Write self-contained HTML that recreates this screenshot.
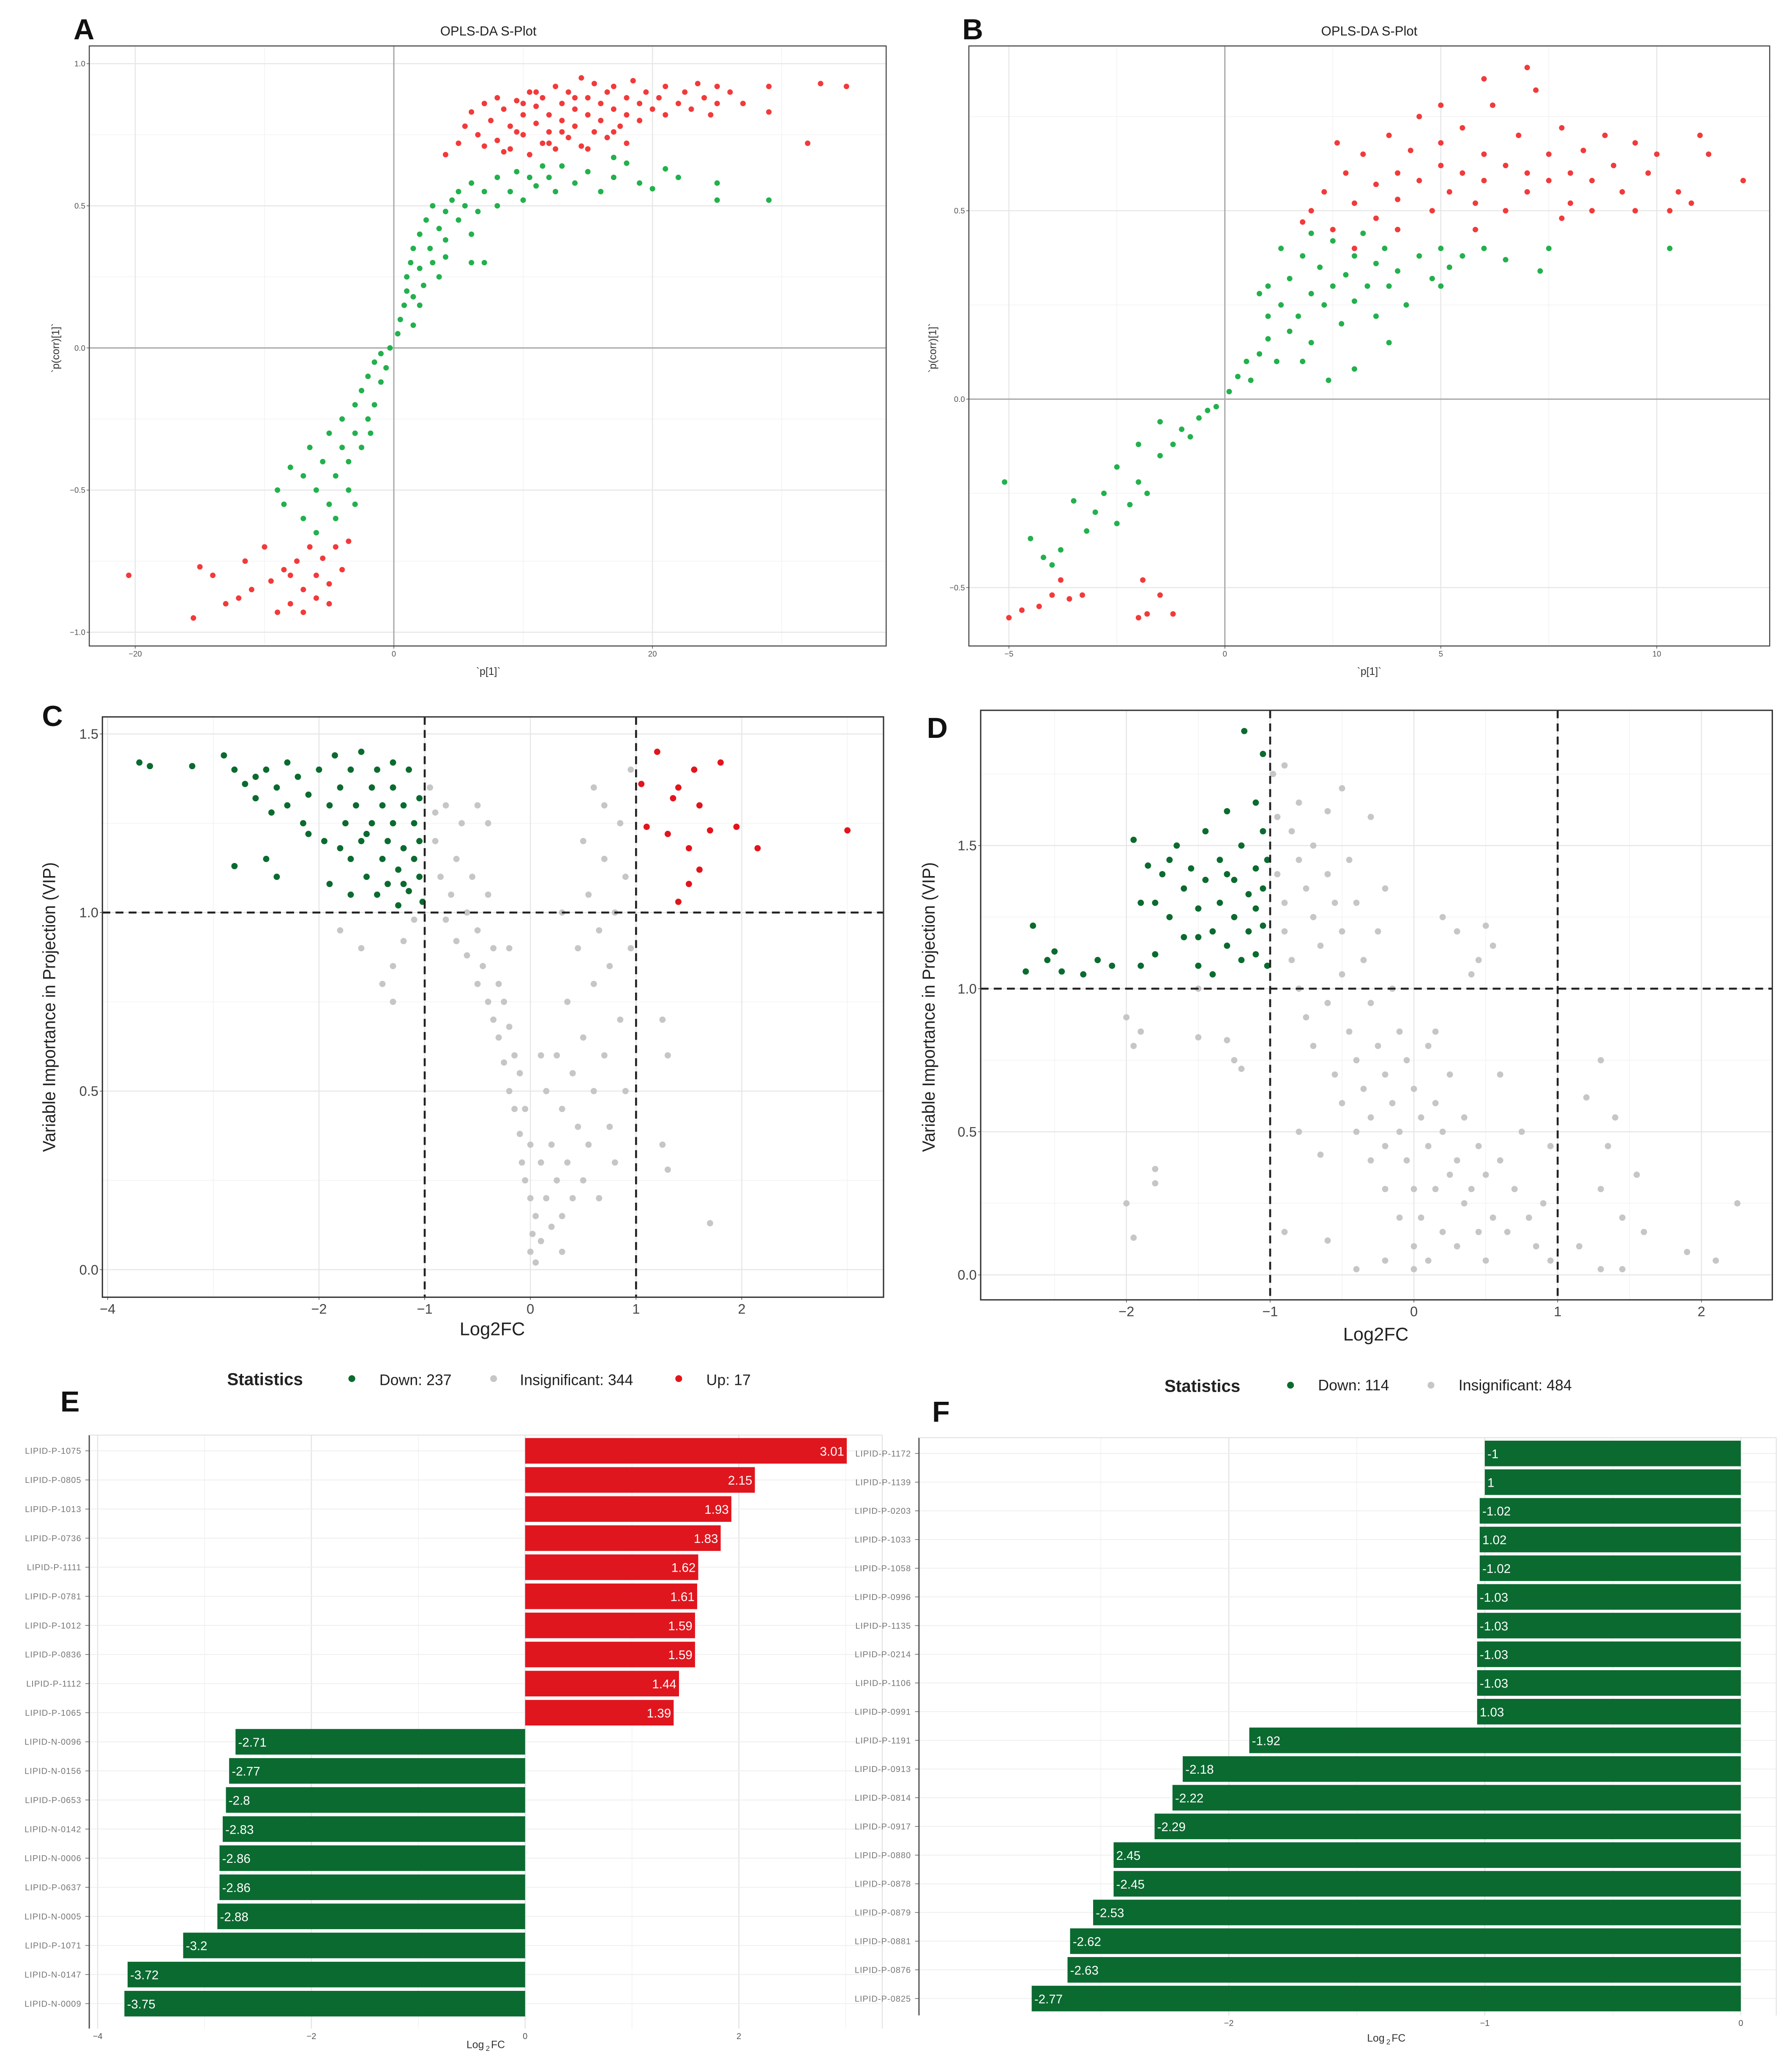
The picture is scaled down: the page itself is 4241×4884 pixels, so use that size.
<!DOCTYPE html>
<html><head><meta charset="utf-8"><title>OPLS-DA figure</title>
<style>
html,body{margin:0;padding:0;background:#fff;}
svg{display:block;font-family:"Liberation Sans",Arial,sans-serif;}
</style></head>
<body>
<svg id="fig" width="4241" height="4884" viewBox="0 0 1365 1572" preserveAspectRatio="none" xmlns="http://www.w3.org/2000/svg">
<rect x="0" y="0" width="1365" height="1572" fill="#fff"/>
</svg>
<script>
// ---------- DATA ----------
const aRedUp=[[4,0.68],[5,0.72],[5.5,0.78],[6,0.83],[6.5,0.75],[7,0.86],[7.5,0.8],[8,0.88],[8,0.73],[8.5,0.84],[9,0.78],[9,0.7],[9.5,0.87],[10,0.82],[10,0.75],[10.5,0.9],[10.5,0.68],[11,0.85],[11,0.79],[11.5,0.72],[11.5,0.88],[12,0.82],[12,0.76],[12.5,0.92],[12.5,0.7],[13,0.86],[13,0.8],[13.5,0.74],[13.5,0.9],[14,0.84],[14,0.78],[14.5,0.95],[14.5,0.71],[15,0.88],[15,0.82],[15.5,0.76],[15.5,0.93],[16,0.86],[16,0.8],[16.5,0.9],[16.5,0.74],[17,0.84],[17,0.92],[17.5,0.78],[18,0.88],[18,0.82],[18.5,0.94],[19,0.86],[19,0.8],[19.5,0.9],[20,0.84],[20.5,0.88],[21,0.82],[21,0.92],[22,0.86],[22.5,0.9],[23,0.84],[23.5,0.93],[24,0.88],[24.5,0.82],[25,0.92],[25,0.86],[26,0.9],[27,0.86],[29,0.92],[29,0.83],[32,0.72],[33,0.93],[35,0.92],[12,0.72],[13,0.76],[11,0.9],[9.5,0.76],[17,0.76],[18,0.72],[15,0.7],[8.5,0.69],[7,0.71],[10,0.86],[14,0.88]];
const aRedDown=[[-20.5,-0.8],[-15.5,-0.95],[-15,-0.77],[-14,-0.8],[-13,-0.9],[-12,-0.88],[-11.5,-0.75],[-11,-0.85],[-10,-0.7],[-9.5,-0.82],[-9,-0.93],[-8.5,-0.78],[-8,-0.9],[-7.5,-0.75],[-7,-0.85],[-7,-0.93],[-6.5,-0.7],[-6,-0.8],[-6,-0.88],[-5.5,-0.74],[-5,-0.83],[-4.5,-0.7],[-4,-0.78],[-3.5,-0.68],[-5,-0.9],[-8,-0.8]];
const aGreen=[[-9,-0.5],[-8,-0.42],[-8.5,-0.55],[-7,-0.45],[-7,-0.6],[-6.5,-0.35],[-6,-0.5],[-6,-0.65],[-5.5,-0.4],[-5,-0.55],[-5,-0.3],[-4.5,-0.45],[-4.5,-0.6],[-4,-0.35],[-4,-0.25],[-3.5,-0.5],[-3.5,-0.4],[-3,-0.3],[-3,-0.2],[-3,-0.55],[-2.5,-0.15],[-2.5,-0.35],[-2,-0.25],[-2,-0.1],[-1.8,-0.3],[-1.5,-0.2],[-1.5,-0.05],[-1,-0.12],[-1,-0.02],[-0.6,-0.07],[-0.3,0],[0.3,0.05],[0.5,0.1],[0.8,0.15],[1,0.2],[1,0.25],[1.3,0.3],[1.5,0.18],[1.5,0.35],[2,0.28],[2,0.4],[2.3,0.22],[2.5,0.45],[2.8,0.35],[3,0.3],[3,0.5],[3.5,0.42],[3.5,0.25],[4,0.48],[4,0.38],[4.5,0.52],[5,0.45],[5,0.55],[5.5,0.5],[6,0.4],[6,0.58],[6.5,0.48],[7,0.3],[7,0.55],[8,0.5],[8,0.6],[9,0.55],[9.5,0.62],[10,0.52],[10.5,0.6],[11,0.57],[11.5,0.64],[12,0.6],[12.5,0.55],[13,0.64],[14,0.58],[15,0.62],[16,0.55],[17,0.6],[17,0.67],[18,0.65],[19,0.58],[20,0.56],[21,0.63],[22,0.6],[25,0.58],[25,0.52],[29,0.52],[4,0.32],[2,0.15],[1.5,0.08],[6,0.3]];

const bRedUp=[[1.8,0.47],[2,0.5],[2.3,0.55],[2.5,0.45],[2.8,0.6],[3,0.52],[3.2,0.65],[3.5,0.57],[3.5,0.48],[3.8,0.7],[4,0.6],[4,0.53],[4.3,0.66],[4.5,0.58],[4.5,0.75],[4.8,0.5],[5,0.62],[5,0.68],[5.2,0.55],[5.5,0.6],[5.5,0.72],[5.8,0.52],[6,0.65],[6,0.58],[6.2,0.78],[6.5,0.62],[6.5,0.5],[6.8,0.7],[7,0.6],[7,0.55],[7.2,0.82],[7.5,0.65],[7.5,0.58],[7.8,0.72],[8,0.6],[8,0.52],[8.3,0.66],[8.5,0.58],[8.8,0.7],[9,0.62],[9.2,0.55],[9.5,0.68],[9.8,0.6],[10,0.65],[10.3,0.5],[10.5,0.55],[10.8,0.52],[11.2,0.65],[12,0.58],[6,0.85],[7,0.88],[5,0.78],[3,0.4],[4,0.45],[8.5,0.5],[9.5,0.5],[2.6,0.68],[11,0.7],[5.8,0.45],[7.8,0.48]];
const bRedDown=[[-5,-0.58],[-4.7,-0.56],[-4.3,-0.55],[-4,-0.52],[-3.8,-0.48],[-3.6,-0.53],[-3.3,-0.52],[-1.9,-0.48],[-1.8,-0.57],[-1.5,-0.52],[-1.2,-0.57],[-2,-0.58]];
const bGreen=[[-5.1,-0.22],[-4.5,-0.37],[-4.2,-0.42],[-4,-0.44],[-3.8,-0.4],[-3.5,-0.27],[-3.2,-0.35],[-3,-0.3],[-2.8,-0.25],[-2.5,-0.33],[-2.5,-0.18],[-2.2,-0.28],[-2,-0.22],[-2,-0.12],[-1.8,-0.25],[-1.5,-0.15],[-1.5,-0.06],[-1.2,-0.12],[-1,-0.08],[-0.8,-0.1],[-0.6,-0.05],[-0.4,-0.03],[-0.2,-0.02],[0.1,0.02],[0.3,0.06],[0.5,0.1],[0.6,0.05],[0.8,0.12],[1,0.16],[1,0.22],[1.2,0.1],[1.3,0.25],[1.5,0.18],[1.5,0.32],[1.7,0.22],[1.8,0.38],[2,0.28],[2,0.15],[2.2,0.35],[2.3,0.25],[2.5,0.42],[2.5,0.3],[2.7,0.2],[2.8,0.33],[3,0.38],[3,0.26],[3.2,0.44],[3.3,0.3],[3.5,0.36],[3.5,0.22],[3.7,0.4],[3.8,0.3],[4,0.45],[4,0.34],[4.2,0.25],[4.5,0.38],[4.8,0.32],[5,0.4],[5.2,0.35],[5.5,0.38],[6,0.4],[6.5,0.37],[7.5,0.4],[7.3,0.34],[1,0.3],[1.8,0.1],[2.4,0.05],[3,0.08],[0.8,0.28],[2,0.44],[10.3,0.4],[3.8,0.15],[1.3,0.4],[5,0.3]];

const cDown=[[-3.7,1.42],[-3.6,1.41],[-3.2,1.41],[-2.9,1.44],[-2.8,1.4],[-2.7,1.36],[-2.6,1.32],[-2.5,1.4],[-2.45,1.28],[-2.4,1.35],[-2.3,1.3],[-2.2,1.38],[-2.15,1.25],[-2.1,1.33],[-2,1.4],[-1.95,1.2],[-1.9,1.3],[-1.85,1.44],[-1.8,1.35],[-1.75,1.25],[-1.7,1.15],[-1.7,1.4],[-1.65,1.3],[-1.6,1.2],[-1.6,1.45],[-1.55,1.1],[-1.5,1.35],[-1.5,1.25],[-1.45,1.05],[-1.45,1.4],[-1.4,1.15],[-1.4,1.3],[-1.35,1.2],[-1.35,1.08],[-1.3,1.35],[-1.3,1.25],[-1.25,1.12],[-1.25,1.02],[-1.2,1.3],[-1.2,1.18],[-1.15,1.4],[-1.15,1.06],[-1.1,1.25],[-1.1,1.15],[-1.05,1.32],[-1.05,1.1],[-1.05,1.2],[-1.02,1.03],[-2.8,1.13],[-2.5,1.15],[-2.4,1.1],[-2.1,1.22],[-1.9,1.08],[-1.7,1.05],[-2.6,1.38],[-2.3,1.42],[-1.8,1.18],[-1.55,1.22],[-1.3,1.42],[-1.2,1.08]];
const cUp=[[1.05,1.36],[1.1,1.24],[1.2,1.45],[1.3,1.22],[1.35,1.32],[1.4,1.35],[1.5,1.18],[1.55,1.4],[1.6,1.12],[1.7,1.23],[1.8,1.42],[1.95,1.24],[2.15,1.18],[3.0,1.23],[1.6,1.3],[1.4,1.03],[1.5,1.08]];
const cInsig=[[-1.8,0.95],[-1.6,0.9],[-1.4,0.8],[-1.3,0.85],[-1.3,0.75],[-1.2,0.92],[-1.1,0.98],[-0.95,1.35],[-0.9,1.2],[-0.85,1.1],[-0.8,1.3],[-0.8,0.98],[-0.75,1.05],[-0.7,1.15],[-0.7,0.92],[-0.65,1.25],[-0.6,1.0],[-0.6,0.88],[-0.55,1.1],[-0.5,0.95],[-0.5,0.8],[-0.45,0.85],[-0.4,1.05],[-0.4,0.75],[-0.35,0.9],[-0.35,0.7],[-0.3,0.8],[-0.3,0.65],[-0.25,0.75],[-0.25,0.58],[-0.2,0.68],[-0.2,0.5],[-0.15,0.6],[-0.15,0.45],[-0.1,0.55],[-0.1,0.38],[-0.08,0.3],[-0.05,0.45],[-0.05,0.25],[0,0.2],[0,0.35],[0,0.05],[0.02,0.1],[0.05,0.15],[0.05,0.02],[0.1,0.3],[0.1,0.08],[0.15,0.2],[0.15,0.5],[0.2,0.12],[0.2,0.35],[0.25,0.25],[0.25,0.6],[0.3,0.15],[0.3,0.45],[0.35,0.3],[0.35,0.75],[0.4,0.2],[0.4,0.55],[0.45,0.4],[0.45,0.9],[0.5,0.25],[0.5,0.65],[0.55,0.35],[0.55,1.05],[0.6,0.5],[0.6,0.8],[0.65,0.2],[0.65,0.95],[0.7,0.6],[0.7,1.15],[0.75,0.4],[0.75,0.85],[0.8,1.0],[0.8,0.3],[0.85,1.25],[0.85,0.7],[0.9,0.5],[0.9,1.1],[0.95,1.4],[0.95,0.9],[0.3,1.0],[0.5,1.2],[0.7,1.3],[-0.9,1.28],[1.25,0.7],[1.3,0.6],[1.25,0.35],[1.3,0.28],[1.7,0.13],[-0.5,1.3],[-0.4,1.25],[-0.2,0.9],[0.1,0.6],[0.6,1.35],[0.3,0.05]];

const dDown=[[-2.7,1.06],[-2.65,1.22],[-2.55,1.1],[-2.5,1.13],[-2.45,1.06],[-2.3,1.05],[-2.2,1.1],[-2.1,1.08],[-1.95,1.52],[-1.9,1.3],[-1.85,1.43],[-1.8,1.12],[-1.75,1.4],[-1.7,1.25],[-1.65,1.5],[-1.6,1.35],[-1.6,1.18],[-1.55,1.42],[-1.5,1.28],[-1.5,1.08],[-1.45,1.55],[-1.45,1.38],[-1.4,1.2],[-1.4,1.05],[-1.35,1.45],[-1.35,1.3],[-1.3,1.62],[-1.3,1.15],[-1.25,1.38],[-1.25,1.25],[-1.2,1.5],[-1.2,1.1],[-1.18,1.9],[-1.15,1.33],[-1.15,1.2],[-1.1,1.42],[-1.1,1.28],[-1.1,1.12],[-1.05,1.55],[-1.05,1.35],[-1.05,1.22],[-1.02,1.45],[-1.02,1.08],[-1.8,1.3],[-1.7,1.45],[-1.5,1.18],[-1.3,1.4],[-1.9,1.08],[-1.05,1.82],[-1.1,1.65]];
const dInsig=[[-2,0.9],[-1.95,0.8],[-1.9,0.85],[-2,0.25],[-1.95,0.13],[-1.8,0.37],[-1.8,0.32],[-1.5,1.0],[-1.3,0.82],[-1.25,0.75],[-1.2,0.72],[-1.5,0.83],[-0.98,1.75],[-0.95,1.6],[-0.95,1.4],[-0.9,1.78],[-0.9,1.3],[-0.9,1.2],[-0.85,1.55],[-0.85,1.1],[-0.8,1.65],[-0.8,1.45],[-0.8,1.0],[-0.75,1.35],[-0.75,0.9],[-0.7,1.5],[-0.7,1.25],[-0.7,0.8],[-0.65,1.15],[-0.6,1.62],[-0.6,1.4],[-0.6,0.95],[-0.55,1.3],[-0.55,0.7],[-0.5,1.2],[-0.5,1.05],[-0.5,0.6],[-0.45,1.45],[-0.45,0.85],[-0.4,1.3],[-0.4,0.75],[-0.4,0.5],[-0.35,1.1],[-0.35,0.65],[-0.3,0.95],[-0.3,0.55],[-0.3,0.4],[-0.25,1.2],[-0.25,0.8],[-0.2,0.7],[-0.2,0.45],[-0.2,0.3],[-0.15,1.0],[-0.15,0.6],[-0.1,0.85],[-0.1,0.5],[-0.1,0.2],[-0.05,0.75],[-0.05,0.4],[0,0.65],[0,0.3],[0,0.1],[0.05,0.55],[0.05,0.2],[0.1,0.8],[0.1,0.45],[0.1,0.05],[0.15,0.6],[0.15,0.3],[0.2,0.5],[0.2,0.15],[0.25,0.7],[0.25,0.35],[0.3,0.4],[0.3,0.1],[0.35,0.55],[0.35,0.25],[0.4,0.3],[0.45,0.45],[0.45,0.15],[0.5,0.35],[0.5,0.05],[0.55,0.2],[0.6,0.4],[0.65,0.15],[0.7,0.3],[0.8,0.2],[0.85,0.1],[0.9,0.25],[0.95,0.05],[0.2,1.25],[0.3,1.2],[0.45,1.1],[0.5,1.22],[0.55,1.15],[0.4,1.05],[-0.3,1.6],[-0.5,1.7],[-0.2,1.35],[0.75,0.5],[0.95,0.45],[1.3,0.75],[1.2,0.62],[1.35,0.45],[1.3,0.3],[1.4,0.55],[1.45,0.2],[1.55,0.35],[1.6,0.15],[1.3,0.02],[1.15,0.1],[1.9,0.08],[2.1,0.05],[2.25,0.25],[1.45,0.02],[-0.65,0.42],[-0.8,0.5],[-0.9,0.15],[-0.6,0.12],[-0.4,0.02],[-0.2,0.05],[0,0.02],[0.15,0.85],[0.6,0.7]];

const eLabels=["LIPID-P-1075","LIPID-P-0805","LIPID-P-1013","LIPID-P-0736","LIPID-P-1111","LIPID-P-0781","LIPID-P-1012","LIPID-P-0836","LIPID-P-1112","LIPID-P-1065","LIPID-N-0096","LIPID-N-0156","LIPID-P-0653","LIPID-N-0142","LIPID-N-0006","LIPID-P-0637","LIPID-N-0005","LIPID-P-1071","LIPID-N-0147","LIPID-N-0009"];
const eValues=[3.01,2.15,1.93,1.83,1.62,1.61,1.59,1.59,1.44,1.39,-2.71,-2.77,-2.8,-2.83,-2.86,-2.86,-2.88,-3.2,-3.72,-3.75];
const eTicks=[-4,-2,0,2];
const fLabels=["LIPID-P-1172","LIPID-P-1139","LIPID-P-0203","LIPID-P-1033","LIPID-P-1058","LIPID-P-0996","LIPID-P-1135","LIPID-P-0214","LIPID-P-1106","LIPID-P-0991","LIPID-P-1191","LIPID-P-0913","LIPID-P-0814","LIPID-P-0917","LIPID-P-0880","LIPID-P-0878","LIPID-P-0879","LIPID-P-0881","LIPID-P-0876","LIPID-P-0825"];
const fValues=[-1,-1,-1.02,-1.02,-1.02,-1.03,-1.03,-1.03,-1.03,-1.03,-1.92,-2.18,-2.22,-2.29,-2.45,-2.45,-2.53,-2.62,-2.63,-2.77];
const fValueText=["-1","1","-1.02","1.02","-1.02","-1.03","-1.03","-1.03","-1.03","1.03","-1.92","-2.18","-2.22","-2.29","2.45","-2.45","-2.53","-2.62","-2.63","-2.77"];
const fTicks=[-2,-1,0];

// ---------- HELPERS ----------
const NS="http://www.w3.org/2000/svg";
const svg=document.getElementById('fig');
function mk(tag,attrs,parent){const e=document.createElementNS(NS,tag);for(const k in attrs)e.setAttribute(k,attrs[k]);(parent||svg).appendChild(e);return e;}
function txt(s,attrs,parent){const t=mk('text',attrs,parent);t.textContent=s;return t;}
function group(name){const g=mk('g',{});

return g;}

function scatterPanel(p){
  const g=group(p.name);
  const xs=v=>p.x0+(v)*p.kx, ys=v=>p.y0+(v)*p.ky;
  const [L,T,R,B]=p.box;
  mk('rect',{x:L,y:T,width:R-L,height:B-T,fill:'#fff'},g);
  p.xminor.forEach(v=>{const l=mk('line',{x1:xs(v),x2:xs(v),y1:T,y2:B,stroke:'#f2f2f2','stroke-width':0.5},g);
    
    });
  p.yminor.forEach(v=>{const l=mk('line',{x1:L,x2:R,y1:ys(v),y2:ys(v),stroke:'#f2f2f2','stroke-width':0.5},g);
    
    });
  p.xticks.forEach(v=>{const l=mk('line',{x1:xs(v),x2:xs(v),y1:T,y2:B,stroke:'#e6e6e6','stroke-width':0.8},g);
    
    
    const t=txt(String(v).replace('-','−'),{x:xs(v),y:B+p.tickOff+p.fs,'font-size':p.fs,'text-anchor':'middle',fill:p.tickColor},g);
    
    
    mk('line',{x1:xs(v),x2:xs(v),y1:B,y2:B+2,stroke:'#555','stroke-width':0.5},g);});
  p.yticks.forEach((v,i)=>{const l=mk('line',{x1:L,x2:R,y1:ys(v),y2:ys(v),stroke:'#e6e6e6','stroke-width':0.8},g);
    
    
    const t=txt(p.ylab[i],{x:L-p.tickOff-1,y:ys(v)+p.fs*0.35,'font-size':p.fs,'text-anchor':'end',fill:p.tickColor},g);
    
    
    mk('line',{x1:L-2,x2:L,y1:ys(v),y2:ys(v),stroke:'#555','stroke-width':0.5},g);});
  if(p.zero){
    const zx=mk('line',{x1:xs(0),x2:xs(0),y1:T,y2:B,stroke:'#aaa','stroke-width':1},g);
    
    
    const zy=mk('line',{x1:L,x2:R,y1:ys(0),y2:ys(0),stroke:'#aaa','stroke-width':1},g);
    
    
  }
  p.series.forEach(s=>{s.data.forEach(d=>{
    const c=mk('circle',{cx:xs(d[0]),cy:ys(d[1]),r:p.r,fill:s.color},g);
    
    
  });});
  if(p.dashed){
    p.dashed.vx.forEach(v=>{const l=mk('line',{x1:xs(v),x2:xs(v),y1:T,y2:B,stroke:'#222','stroke-width':1.5,'stroke-dasharray':'6,4'},g);
      
      });
    p.dashed.hy.forEach(v=>{const l=mk('line',{x1:L,x2:R,y1:ys(v),y2:ys(v),stroke:'#222','stroke-width':1.5,'stroke-dasharray':'6,4'},g);
      
      });
  }
  const fr=mk('rect',{x:L,y:T,width:R-L,height:B-T,fill:'none',stroke:p.frame,'stroke-width':p.frameW},g);
  
  
  return g;
}

// ---------- PANELS A/B ----------
const gA=scatterPanel({name:'panel-a-splot',box:[68,35,675,492],x0:300,kx:9.85,y0:265,ky:-216.5,
  xticks:[-20,0,20],xminor:[-10,10,30],yticks:[-1,-0.5,0,0.5,1],ylab:['−1.0','−0.5','0.0','0.5','1.0'],yminor:[-0.75,-0.25,0.25,0.75],
  fs:6,tickOff:2,tickColor:'#555',zero:true,r:2.1,frame:'#444',frameW:0.8,
  series:[{name:'green-point',color:'#22b14c',data:aGreen},{name:'red-point',color:'#f23a3a',data:aRedUp},{name:'red-point',color:'#f23a3a',data:aRedDown}]});
const gB=scatterPanel({name:'panel-b-splot',box:[738,35,1348,492],x0:933,kx:32.9,y0:304,ky:-287,
  xticks:[-5,0,5,10],xminor:[-2.5,2.5,7.5],yticks:[-0.5,0,0.5],ylab:['−0.5','0.0','0.5'],yminor:[-0.25,0.25,0.75],
  fs:6,tickOff:2,tickColor:'#555',zero:true,r:2.1,frame:'#444',frameW:0.8,
  series:[{name:'green-point',color:'#22b14c',data:bGreen},{name:'red-point',color:'#f23a3a',data:bRedUp},{name:'red-point',color:'#f23a3a',data:bRedDown}]});

// ---------- PANELS C/D ----------
const gC=scatterPanel({name:'panel-c-volcano',box:[78,546,673,988],x0:404,kx:80.5,y0:967,ky:-272,
  xticks:[-4,-2,-1,0,1,2],xminor:[-3,3],yticks:[0,0.5,1,1.5],ylab:['0.0','0.5','1.0','1.5'],yminor:[0.25,0.75,1.25],
  fs:10.5,tickOff:2,tickColor:'#444',zero:false,r:2.4,frame:'#333',frameW:1,dashed:{vx:[-1,1],hy:[1]},
  series:[{name:'insignificant-point',color:'#c6c6c6',data:cInsig},{name:'down-point',color:'#0b6b2f',data:cDown},{name:'up-point',color:'#e3141c',data:cUp}]});
const gD=scatterPanel({name:'panel-d-volcano',box:[747,541,1350,990],x0:1077,kx:109.5,y0:971,ky:-218,
  xticks:[-2,-1,0,1,2],xminor:[-2.5,-1.5,-0.5,0.5,1.5],yticks:[0,0.5,1,1.5],ylab:['0.0','0.5','1.0','1.5'],yminor:[0.25,0.75,1.25,1.75],
  fs:10.5,tickOff:2,tickColor:'#444',zero:false,r:2.4,frame:'#333',frameW:1,dashed:{vx:[-1,1],hy:[1]},
  series:[{name:'insignificant-point',color:'#c6c6c6',data:dInsig},{name:'down-point',color:'#0b6b2f',data:dDown}]});

// ---------- BAR PANELS ----------
function barPanel(p){
  const g=group(p.name);
  const [L,T,R,B]=p.box;
  const xs=v=>p.x0+v*p.kx, ry=i=>p.row0+i*p.step;
  mk('rect',{x:L,y:T,width:R-L,height:B-T,fill:'#fff'},g);
  p.minor.forEach(v=>{const l=mk('line',{x1:xs(v),x2:xs(v),y1:T,y2:B,stroke:'#f3f3f3','stroke-width':0.6},g);
    
    });
  p.ticks.forEach(v=>{const l=mk('line',{x1:xs(v),x2:xs(v),y1:T,y2:B,stroke:'#e6e6e6','stroke-width':0.9},g);
    
    
    const t=txt(String(v).replace('-','−'),{x:xs(v),y:B+8,'font-size':6.5,'text-anchor':'middle',fill:'#555'},g);
    
    });
  p.labels.forEach((lab,i)=>{
    const l=mk('line',{x1:L,x2:R,y1:ry(i),y2:ry(i),stroke:'#eeeeee','stroke-width':0.6},g);
    
    
    const t=txt(lab,{x:L-6,y:ry(i)+2.3,'font-size':6.5,'text-anchor':'end',fill:'#777','letter-spacing':'0.3'},g);
    
    
    mk('line',{x1:L-3,x2:L,y1:ry(i),y2:ry(i),stroke:'#666','stroke-width':0.5},g);
  });
  p.values.forEach((v,i)=>{
    const x1=Math.min(xs(0),xs(v)),w=Math.abs(xs(v)-xs(0));
    const color=(p.colorFn)(v,i);
    const r=mk('rect',{x:x1,y:ry(i)-p.bh/2,width:w,height:p.bh,fill:color},g);
    
    
    const s=p.valText?p.valText[i]:String(v);
    const tv=txt(s,{x:v>0?xs(v)-2:xs(v)+2,y:ry(i)+3.6,'font-size':9.5,'text-anchor':v>0?'end':'start',fill:'#fff'},g);
    
    
  });
  const ax=mk('line',{x1:L,x2:L,y1:T,y2:B,stroke:'#555','stroke-width':1},g);
  
  
  mk('line',{x1:L,x2:R,y1:T,y2:T,stroke:'#ddd','stroke-width':0.6},g);
  mk('line',{x1:R,x2:R,y1:T,y2:B,stroke:'#ddd','stroke-width':0.6},g);
  return g;
}
barPanel({name:'panel-e-bars',box:[68,1093,672,1545],x0:400,kx:81.4,row0:1105,step:22.16,bh:19.5,
  ticks:eTicks,minor:[-3,-1,1,3],labels:eLabels,values:eValues,colorFn:v=>v>0?'#e0161e':'#0b6a30'});
barPanel({name:'panel-f-bars',box:[700,1095,1353,1535],x0:1326,kx:195,row0:1107,step:21.85,bh:19.5,
  ticks:fTicks,minor:[-2.5,-1.5,-0.5],labels:fLabels,values:fValues,valText:fValueText,colorFn:()=>'#0b6a30'});

// ---------- TEXT / TITLES ----------
function T(s,x,y,attrs,name){const t=txt(s,Object.assign({x:x,y:y},attrs));
  
  
  return t;}
const L={'font-size':22,'font-weight':'bold',fill:'#111'};
T('A',56,30,L,'panel-letter-a');T('B',733,30,L,'panel-letter-b');
T('C',32,553,L,'panel-letter-c');T('D',706,562,L,'panel-letter-d');
T('E',46,1075,L,'panel-letter-e');T('F',710,1083,L,'panel-letter-f');
T('OPLS-DA S-Plot',372,27,{'font-size':10,'text-anchor':'middle',fill:'#222'},'chart-title-a');
T('OPLS-DA S-Plot',1043,27,{'font-size':10,'text-anchor':'middle',fill:'#222'},'chart-title-b');
T('`p[1]`',372,514,{'font-size':8,'text-anchor':'middle',fill:'#333'},'x-axis-title-a');
T('`p[1]`',1043,514,{'font-size':8,'text-anchor':'middle',fill:'#333'},'x-axis-title-b');
T('`p(corr)[1]`',0,0,{'font-size':8,'text-anchor':'middle',fill:'#333',transform:'translate(45,265) rotate(-90)'},'y-axis-title-a');
T('`p(corr)[1]`',0,0,{'font-size':8,'text-anchor':'middle',fill:'#333',transform:'translate(713,265) rotate(-90)'},'y-axis-title-b');
T('Log2FC',375,1017,{'font-size':14,'text-anchor':'middle',fill:'#222'},'x-axis-title-c');
T('Log2FC',1048,1021,{'font-size':14,'text-anchor':'middle',fill:'#222'},'x-axis-title-d');
T('Variable Importance in Projection (VIP)',0,0,{'font-size':13.5,'text-anchor':'middle',fill:'#222',transform:'translate(42,767) rotate(-90) scale(0.95,1)'},'y-axis-title-c');
T('Variable Importance in Projection (VIP)',0,0,{'font-size':13.5,'text-anchor':'middle',fill:'#222',transform:'translate(712,767) rotate(-90) scale(0.95,1)'},'y-axis-title-d');
const e1=T('Log',362,1560,{'font-size':8,'text-anchor':'middle',fill:'#333'},'x-axis-title-e');
T('2',370,1562,{'font-size':5.5,fill:'#333'},'x-axis-title-e-sub');T('FC',374,1560,{'font-size':8,fill:'#333'},'x-axis-title-e-fc');
T('Log',1048,1555,{'font-size':8,'text-anchor':'middle',fill:'#333'},'x-axis-title-f');
T('2',1056,1557,{'font-size':5.5,fill:'#333'},'x-axis-title-f-sub');T('FC',1060,1555,{'font-size':8,fill:'#333'},'x-axis-title-f-fc');

// legends
function legendDot(cx,cy,color,name){const c=mk('circle',{cx:cx,cy:cy,r:2.6,fill:color});
  
  }
T('Statistics',173,1055,{'font-size':13,'font-weight':'bold',fill:'#222'},'legend-title-c');
legendDot(268,1050,'#0b6b2f','legend-dot-down');T('Down: 237',289,1055,{'font-size':11.5,fill:'#222'},'legend-entry-down');
legendDot(376,1050,'#c6c6c6','legend-dot-insignificant');T('Insignificant: 344',396,1055,{'font-size':11.5,fill:'#222'},'legend-entry-insignificant');
legendDot(517,1050,'#e3141c','legend-dot-up');T('Up: 17',538,1055,{'font-size':11.5,fill:'#222'},'legend-entry-up');
T('Statistics',887,1060,{'font-size':13,'font-weight':'bold',fill:'#222'},'legend-title-d');
legendDot(983,1055,'#0b6b2f','legend-dot-down-d');T('Down: 114',1004,1059,{'font-size':11.5,fill:'#222'},'legend-entry-down-d');
legendDot(1090,1055,'#c6c6c6','legend-dot-insignificant-d');T('Insignificant: 484',1111,1059,{'font-size':11.5,fill:'#222'},'legend-entry-insignificant-d');
</script>
</body></html>
